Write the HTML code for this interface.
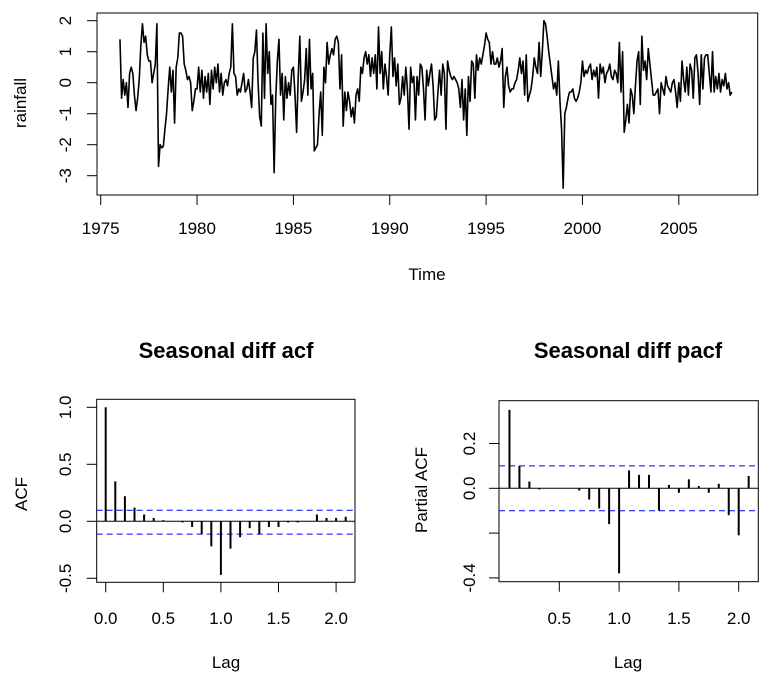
<!DOCTYPE html>
<html><head><meta charset="utf-8"><style>
body{margin:0;background:#fff}
svg{display:block;font-family:"Liberation Sans",Arial,sans-serif}
</style></head><body>
<svg id="c" width="769" height="685" viewBox="0 0 769 685"></svg>
<script>
const rainStart = 1976;
const rainfall = [
1.4,-0.5,0.1,-0.4,0.0,-0.8,0.3,0.5,0.3,-0.4,-0.9,-0.5,
0.1,1.2,1.9,1.3,1.5,0.9,0.7,0.7,0.0,0.3,0.6,1.9,
-2.7,-2.0,-2.1,-2.05,-1.5,-1.0,-0.2,0.5,-0.3,0.4,-1.3,0.5,
0.8,1.6,1.6,1.5,0.6,0.4,0.1,0.2,0.0,-0.9,-0.6,-0.2,
-0.2,0.5,-0.3,0.4,-0.5,0.2,-0.3,0.3,-0.7,0.4,-0.2,0.5,
0.0,0.6,-0.3,0.3,-0.4,0.0,0.1,-0.1,0.3,0.5,1.9,0.3,
0.2,-0.4,-0.2,-0.3,0.0,0.3,-0.3,-0.2,0.1,-0.3,-0.8,0.8,
1.0,1.7,0.0,-1.1,-1.4,1.6,-0.5,1.9,0.3,1.0,-0.7,-0.4,
-2.9,-0.5,0.7,1.4,-0.4,0.3,-1.2,0.2,-0.5,0.0,-0.4,0.4,
0.5,-0.4,-1.6,0.2,1.5,-0.6,-0.3,0.1,1.1,-0.4,1.4,-0.2,
0.3,-2.2,-2.1,-2.0,-1.0,-0.3,-1.7,0.5,0.0,1.3,0.6,0.9,
1.1,0.9,1.4,1.5,1.3,-0.2,0.9,-1.4,-0.3,-0.9,-0.3,-0.6,
-1.1,-0.8,-1.3,-0.4,-0.2,-0.6,0.5,0.3,0.8,1.0,0.6,0.9,
0.2,0.8,0.3,0.9,-0.2,1.8,0.3,1.0,-0.2,0.6,0.2,-0.4,
0.9,1.8,0.2,0.8,-0.1,0.6,-0.7,-0.5,0.2,-0.4,0.5,-0.2,
-1.5,0.5,0.0,0.2,-1.2,0.2,-0.4,0.6,0.5,-0.2,-1.2,0.4,
-0.1,0.3,0.6,-0.1,-1.2,-1.1,-0.3,0.4,-0.4,0.6,0.3,-1.5,
0.7,0.4,0.2,0.1,0.2,0.1,0.0,-0.2,-0.8,0.1,-1.2,-0.2,
-1.7,0.2,-0.6,0.7,0.6,-0.5,0.9,0.4,0.8,0.6,0.9,1.2,
1.6,1.4,1.3,0.6,1.0,0.6,0.6,0.8,0.5,0.7,1.1,-0.8,
0.2,0.5,-0.1,-0.3,-0.2,-0.2,0.0,0.1,0.4,0.8,0.3,0.7,
-0.4,0.9,-0.6,-0.4,-0.2,0.2,0.8,0.5,0.3,1.3,0.2,1.0,
2.0,1.9,1.5,1.0,0.6,0.2,-0.2,0.0,-0.4,0.7,-0.6,-1.5,
-3.4,-1.0,-0.8,-0.5,-0.3,-0.3,-0.2,-0.5,-0.6,-0.5,-0.3,0.0,
0.7,0.2,0.4,0.3,0.5,0.6,0.1,0.4,0.2,0.5,-0.5,0.6,
0.3,0.5,0.0,0.3,0.4,0.6,0.2,0.1,0.4,0.3,0.0,1.3,
-0.3,1.0,-1.6,-1.2,-0.7,-1.3,-0.2,-0.4,-1.0,-0.1,0.7,1.0,
-0.7,1.5,0.4,0.7,0.1,1.1,0.6,0.1,-0.4,-0.4,-0.3,-0.2,
-1.0,0.0,-0.2,-0.4,0.2,-0.1,-0.2,-0.3,0.0,0.1,-0.3,-0.8,
0.0,-0.6,0.7,0.1,-0.3,0.5,-0.4,0.6,0.4,-0.5,0.8,0.9,
0.3,-0.7,0.9,-0.2,0.8,0.9,0.9,0.3,-0.3,1.0,-0.3,0.2,
-0.2,0.3,-0.3,0.1,-0.1,0.3,-0.2,0.0,-0.4,-0.3];
const topXTicks = [1975,1980,1985,1990,1995,2000,2005];
const topYTicks = [2,1,0,-1,-2,-3];

const acfVals = [1.0,0.35,0.22,0.12,0.06,0.03,0.01,0.0,-0.01,-0.05,-0.11,-0.22,-0.47,-0.24,-0.14,-0.06,-0.11,-0.05,-0.05,-0.01,-0.01,0.0,0.06,0.03,0.03,0.04];
const acfXTicks = [0,0.5,1,1.5,2];
const acfXLabels = ["0.0","0.5","1.0","1.5","2.0"];
const acfYTicks = [1,0.5,0,-0.5];
const acfYLabels = ["1.0","0.5","0.0","-0.5"];
const acfCI = [0.097,-0.113];

const pacfVals = [0.35,0.10,0.03,-0.005,0,0,0,-0.01,-0.05,-0.09,-0.16,-0.38,0.08,0.06,0.06,-0.10,0.015,-0.02,0.04,0.01,-0.02,0.02,-0.12,-0.21,0.055];
const pacfXTicks = [0.5,1,1.5,2];
const pacfXLabels = ["0.5","1.0","1.5","2.0"];
const pacfYTicks = [0.2,0,-0.2,-0.4];
const pacfYLabels = ["0.2","0.0","","-0.4"];
const pacfCI = [0.1,-0.1];

const svg = document.getElementById('c');
const NS = 'http://www.w3.org/2000/svg';
function mk(tag, attrs, parent){const e=document.createElementNS(NS,tag);for(const k in attrs)e.setAttribute(k,attrs[k]);(parent||svg).appendChild(e);return e;}
function txt(s,x,y,size,opts){const t=mk('text',{x:x,y:y,'font-size':size,'text-anchor':'middle',fill:'#000'});if(opts&&opts.rot)t.setAttribute('transform','rotate(-90 '+x+' '+y+')');if(opts&&opts.bold)t.setAttribute('font-weight','bold');t.textContent=s;return t;}

const TS = 17;
// ---- top time series ----
const tx = v => 100.7 + (v-1975)*19.27;
const ty = v => 82.7 - v*31;
const box1 = mk('rect',{x:97,y:13,width:660.7,height:182,fill:'none',stroke:'#000','stroke-width':1});


let d='';
rainfall.forEach((v,i)=>{d+=(i?'L':'M')+tx(rainStart+i/12).toFixed(2)+' '+ty(v).toFixed(2);});
const line = mk('path',{d:d,fill:'none',stroke:'#000','stroke-width':1.6,'stroke-linejoin':'round'});


topXTicks.forEach(v=>{
  const l = mk('line',{x1:tx(v),x2:tx(v),y1:195,y2:205,stroke:'#000'});
  
  
  const t = txt(String(v),tx(v),234,TS);
  
  
});
topYTicks.forEach(v=>{
  const l = mk('line',{x1:87,x2:97,y1:ty(v),y2:ty(v),stroke:'#000'});
  
  
  const t = txt(String(v),71,ty(v),TS,{rot:true});
  
  
});
let e = txt('Time',427,280,TS);


e = txt('rainfall',26,103,TS,{rot:true});



// ---- correlogram helper ----
function corr(cfg){
  const X = v => cfg.x0 + v*cfg.xs;
  const Y = v => cfg.y0 - v*cfg.ys;
  const b = mk('rect',{x:cfg.bx,y:cfg.by,width:cfg.bw,height:cfg.bh,fill:'none',stroke:'#000'});
  
  
  const z = mk('line',{x1:cfg.bx,x2:cfg.bx+cfg.bw,y1:Y(0),y2:Y(0),stroke:'#000'});
  
  
  cfg.ci.forEach(c=>{
    const l = mk('line',{x1:cfg.bx,x2:cfg.bx+cfg.bw,y1:Y(c),y2:Y(c),stroke:'#0000ff','stroke-dasharray':'6,4'});
    
    
  });
  cfg.vals.forEach((v,i)=>{
    const lag = (i+cfg.lag0)/12;
    const l = mk('line',{x1:X(lag),x2:X(lag),y1:Y(0),y2:Y(v),stroke:'#000','stroke-width':2});
    
    
  });
  cfg.xt.forEach((v,i)=>{
    const l = mk('line',{x1:X(v),x2:X(v),y1:cfg.by+cfg.bh,y2:cfg.by+cfg.bh+10,stroke:'#000'});
    
    
    const t = txt(cfg.xl[i],X(v),624,TS);
    
    
  });
  cfg.yt.forEach((v,i)=>{
    const l = mk('line',{x1:cfg.bx-10,x2:cfg.bx,y1:Y(v),y2:Y(v),stroke:'#000'});
    
    
    if(cfg.yl[i]){const t = txt(cfg.yl[i],cfg.ylx,Y(v),TS,{rot:true});
    
    }
  });
  let t = txt(cfg.title,cfg.cx,358,22,{bold:true});
  
  
  t = txt('Lag',cfg.cx,668,TS);
  
  
  t = txt(cfg.ylab,cfg.ylabx,cfg.ylaby,TS,{rot:true});
  
  
}
corr({name:'acf',vals:acfVals,lag0:0,x0:105.7,xs:115.2,y0:521.3,ys:114,bx:96.7,by:399.3,bw:258.3,bh:183,
  ci:acfCI,xt:acfXTicks,xl:acfXLabels,yt:acfYTicks,yl:acfYLabels,ylx:71,title:'Seasonal diff acf',cx:226,ylab:'ACF',ylabx:27,ylaby:494});
corr({name:'pacf',vals:pacfVals,lag0:1,x0:499.5,xs:119.6,y0:488.3,ys:224,bx:499,by:400.7,bw:259.3,bh:181,
  ci:pacfCI,xt:pacfXTicks,xl:pacfXLabels,yt:pacfYTicks,yl:pacfYLabels,ylx:475,title:'Seasonal diff pacf',cx:628,ylab:'Partial ACF',ylabx:427,ylaby:490});
</script>
</body></html>
